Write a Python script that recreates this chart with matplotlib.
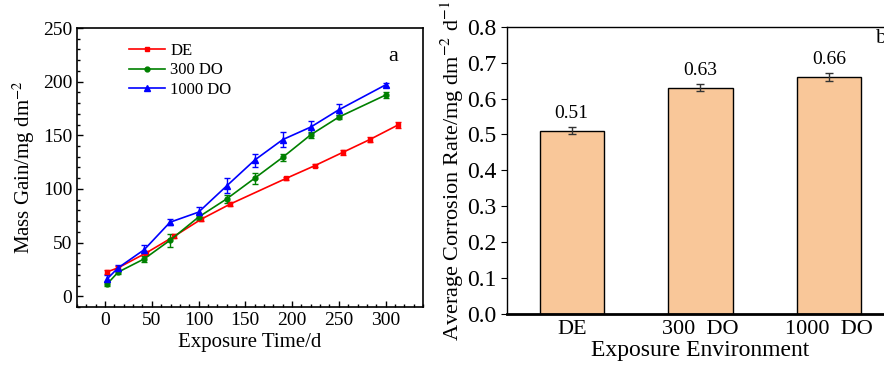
import numpy as np
import matplotlib
matplotlib.use('Agg')
import matplotlib.pyplot as plt
from matplotlib.ticker import MultipleLocator, FormatStrFormatter
from matplotlib.lines import Line2D

plt.rcParams['font.family'] = ['Liberation Serif', 'DejaVu Serif']
plt.rcParams['mathtext.fontset'] = 'stix'

# a: 质量增加
t_de = [2.5, 14, 44, 74, 103, 134, 194, 224, 254, 283, 313]
m_de = [22.8, 26.5, 40.4, 55.9, 71.9, 86, 110, 121.6, 134, 146, 159.5]
e_de = [2, 2, 2, 2, 2, 2, 1.5, 1.5, 2, 2, 3]

t_300 = [2.5, 14, 42, 69.5, 100, 130, 160, 190, 220, 250, 300]
m_300 = [11.7, 22.5, 34.9, 52.2, 73.8, 90.7, 110, 129.5, 150.5, 167, 187.5]
e_300 = [2, 2, 3, 6, 3, 4, 5, 3, 3, 2, 3]

t_1000 = [2.5, 14, 42, 69.5, 100, 130, 160, 190, 220, 250, 300]
m_1000 = [16.4, 26.5, 43.5, 69, 78.4, 102.8, 126.9, 146, 157.7, 173.8, 197]
e_1000 = [3, 3, 4, 3, 5, 7, 6, 7, 6, 5, 2]

# b: 平均腐蚀速率
envs = ['DE', '300  DO', '1000  DO']
rate = [0.51, 0.63, 0.66]
rate_err = [0.01, 0.01, 0.01]

fig = plt.figure(figsize=(8.84, 3.67), dpi=100)

ax1 = fig.add_axes([0.0871, 0.1635, 0.3914, 0.7602])
series = [(t_de, m_de, e_de, 'red', 's', 3.5, 'DE'),
          (t_300, m_300, e_300, 'green', 'o', 3.5, '300 DO'),
          (t_1000, m_1000, e_1000, 'blue', '^', 4, '1000 DO')]
handles = []
for t, m, e, c, mk, ms, lab in series:
    ax1.errorbar(t, m, yerr=e, color=c, marker=mk, markersize=ms,
                 lw=1.2, capsize=2, elinewidth=1)
    handles.append(Line2D([], [], color=c, marker=mk, markersize=ms, lw=1.2, label=lab))
ax1.set_xlim(-30, 340)
ax1.set_ylim(-10, 250)
ax1.xaxis.set_major_locator(MultipleLocator(50))
ax1.xaxis.set_minor_locator(MultipleLocator(10))
ax1.yaxis.set_major_locator(MultipleLocator(50))
ax1.yaxis.set_minor_locator(MultipleLocator(10))
ax1.tick_params(which='both', direction='in', labelsize=14, width=1)
ax1.tick_params(which='major', length=4)
ax1.tick_params(which='minor', length=2.5)
ax1.set_xlabel('Exposure Time/d', fontsize=15, labelpad=3)
ax1.set_ylabel('Mass Gain/mg dm$^{-2}$', fontsize=15, labelpad=4)
ax1.text(0.9, 0.88, 'a', transform=ax1.transAxes, fontsize=16)
ax1.legend(handles=handles, loc='upper left', bbox_to_anchor=(0.13, 0.97), frameon=False,
           fontsize=12, handlelength=2.2, handletextpad=0.3, labelspacing=0.2,
           borderaxespad=0)
for s in ax1.spines.values():
    s.set_linewidth(1.2)

ax2 = fig.add_axes([0.5732, 0.1444, 0.4376, 0.7828])
x = np.arange(len(envs))
ax2.bar(x, rate, width=0.5, color='#F9C799', edgecolor='black', linewidth=1)
ax2.errorbar(x, rate, yerr=rate_err, fmt='none', ecolor='#333333', capsize=3, elinewidth=1)
for xi, v, e in zip(x, rate, rate_err):
    ax2.text(xi, v + e + 0.015, f'{v:.2f}', ha='center', va='bottom', fontsize=14)
ax2.set_xlim(-0.505, 2.5)
ax2.set_ylim(0, 0.8)
ax2.set_xticks(x)
ax2.set_xticklabels(envs)
ax2.yaxis.set_major_locator(MultipleLocator(0.1))
ax2.yaxis.set_major_formatter(FormatStrFormatter('%.1f'))
ax2.tick_params(axis='x', length=0, labelsize=16, pad=4)
ax2.tick_params(axis='y', direction='out', length=4, labelsize=17)
ax2.set_xlabel('Exposure Environment', fontsize=17, labelpad=1)
ax2.set_ylabel('Average Corrosion Rate/mg dm$^{-2}$ d$^{-1}$', fontsize=16, labelpad=1)
ax2.text(2.36, 0.755, 'b', fontsize=16)
ax2.spines['bottom'].set_linewidth(2)
ax2.spines['left'].set_linewidth(1)
ax2.spines['top'].set_linewidth(1)

fig.savefig('out.png', dpi=100)
